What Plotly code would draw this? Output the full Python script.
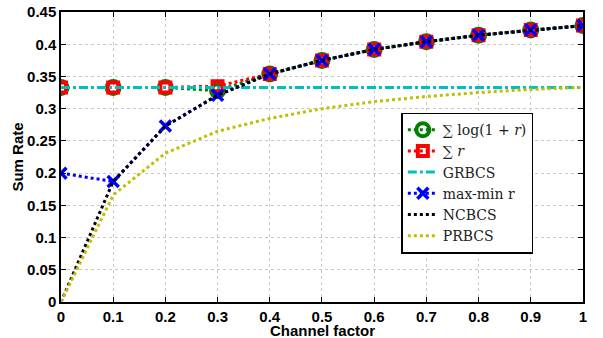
import plotly.graph_objects as go

channel_factor = [0, 0.1, 0.2, 0.3, 0.4, 0.5, 0.6, 0.7, 0.8, 0.9, 1.0]
sum_log = [0.333, 0.333, 0.333, 0.328, 0.354, 0.375, 0.392, 0.404, 0.414, 0.422, 0.429]
sum_r = [0.333, 0.333, 0.333, 0.335, 0.354, 0.375, 0.392, 0.404, 0.414, 0.422, 0.429]
grbcs = [0.333, 0.333, 0.333, 0.333, 0.333, 0.333, 0.333, 0.333, 0.333, 0.333, 0.333]
maxmin = [0.200, 0.187, 0.273, 0.321, 0.354, 0.375, 0.392, 0.404, 0.414, 0.422, 0.429]
ncbcs = [0.0, 0.187, 0.273, 0.321, 0.354, 0.375, 0.392, 0.404, 0.414, 0.422, 0.429]
prbcs = [0.0, 0.166, 0.231, 0.265, 0.285, 0.300, 0.311, 0.319, 0.325, 0.330, 0.333]

x_ticks = [0, 0.1, 0.2, 0.3, 0.4, 0.5, 0.6, 0.7, 0.8, 0.9, 1]
x_tick_labels = ["0", "0.1", "0.2", "0.3", "0.4", "0.5", "0.6", "0.7", "0.8", "0.9", "1"]
y_ticks = [0, 0.05, 0.1, 0.15, 0.2, 0.25, 0.3, 0.35, 0.4, 0.45]
y_tick_labels = ["0", "0.05", "0.1", "0.15", "0.2", "0.25", "0.3", "0.35", "0.4", "0.45"]

fig = go.Figure()
fig.add_trace(go.Scatter(
    x=channel_factor, y=sum_log, mode="lines+markers", name="∑ log(1 + <i>r</i>)",
    line=dict(color="#008000", width=3, dash="dot"),
    marker=dict(symbol="circle-open", size=13, color="#008000", line=dict(width=4, color="#008000"))))
fig.add_trace(go.Scatter(
    x=channel_factor, y=sum_r, mode="lines+markers", name="∑ <i>r</i>",
    line=dict(color="#ff0000", width=3, dash="dot"),
    marker=dict(symbol="square-open", size=10, color="#ff0000", line=dict(width=4, color="#ff0000"))))
fig.add_trace(go.Scatter(
    x=channel_factor, y=grbcs, mode="lines", name="GRBCS",
    line=dict(color="#00bfbf", width=3, dash="dashdot")))
fig.add_trace(go.Scatter(
    x=channel_factor, y=maxmin, mode="lines+markers", name="max-min r",
    line=dict(color="#0000ff", width=3, dash="dot"),
    marker=dict(symbol="x-thin-open", size=11, color="#0000ff", line=dict(width=3.5, color="#0000ff"))))
fig.add_trace(go.Scatter(
    x=channel_factor, y=ncbcs, mode="lines", name="NCBCS",
    line=dict(color="#000000", width=3, dash="dot")))
fig.add_trace(go.Scatter(
    x=channel_factor, y=prbcs, mode="lines", name="PRBCS",
    line=dict(color="#bfbf00", width=3, dash="dot")))

axis_common = dict(
    showline=True, linecolor="black", linewidth=1.5, mirror="ticks",
    ticks="inside", ticklen=5, tickcolor="black", tickwidth=1,
    showgrid=True, gridcolor="#c8c8c8", griddash="dot", gridwidth=1,
    zeroline=False, automargin=False, ticklabeloverflow="allow",
    ticklabelstandoff=0,
    tickfont=dict(family="Liberation Sans", size=15, color="black", weight="bold"),
)

fig.update_xaxes(range=[0, 1.0001], tickvals=x_ticks, ticktext=x_tick_labels, **axis_common)
fig.update_yaxes(range=[0, 0.4501], tickvals=y_ticks, ticktext=y_tick_labels,
                 title=dict(text="Sum Rate", standoff=0,
                            font=dict(family="Liberation Sans", size=15, color="black", weight="bold")),
                 **axis_common)

fig.add_annotation(text="Channel factor", xref="paper", yref="paper", x=0.5, y=0,
                   xanchor="center", yanchor="top", yshift=-19, showarrow=False,
                   borderpad=0,
                   font=dict(family="Liberation Sans", size=15, color="black", weight="bold"))

fig.update_layout(
    width=603, height=338,
    margin=dict(l=61, r=20, t=12, b=36),
    paper_bgcolor="white", plot_bgcolor="white",
    showlegend=True,
    legend=dict(x=0.652, y=0.41, xanchor="left", yanchor="middle",
                bgcolor="white", bordercolor="black", borderwidth=1.5,
                font=dict(family="DejaVu Serif", size=14, color="#222"),
                tracegroupgap=0, itemwidth=30),
)

fig.write_html("out.html", config={"displayModeBar": False},
               post_script="document.body.style.margin='0';")
